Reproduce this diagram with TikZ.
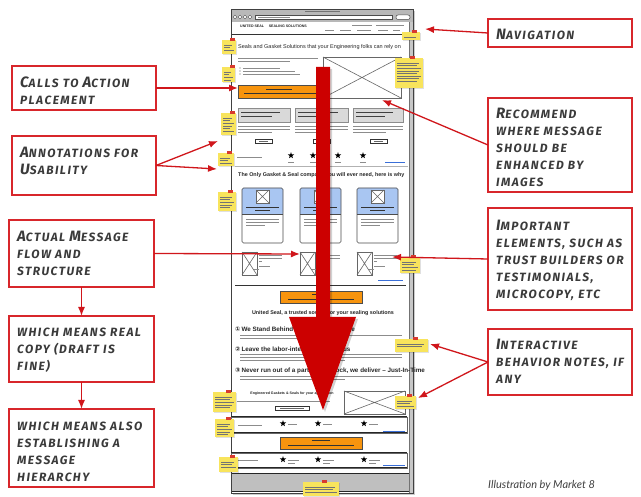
\documentclass[tikz,border=0pt]{standalone}
\usepackage{fontspec}
\setmainfont{Liberation Sans}
\newfontfamily\lblfont{Fira Sans}[LetterSpace=12]
\newfontfamily\credfont{Lato}
\newfontfamily\symfont{DejaVu Sans}
\usetikzlibrary{arrows.meta,calc}
\definecolor{boxred}{HTML}{D8262B}
\definecolor{connred}{HTML}{D0161B}
\definecolor{bigred}{HTML}{CC0000}
\definecolor{lblgray}{HTML}{3A3A3A}
\definecolor{stickyc}{HTML}{F8E45C}
\definecolor{pinc}{HTML}{D83A2E}
\definecolor{ctaor}{HTML}{F7940E}
\definecolor{cardblue}{HTML}{A9C6F2}
\definecolor{linkblue}{HTML}{3A6FD8}
\newcommand\Cp[1]{{\fontsize{15}{17}\selectfont #1}}
\tikzset{
 lblbox/.style={draw=boxred, line width=1.2pt, fill=white, inner sep=0pt, outer sep=0pt, anchor=north west},
 lbltext/.style={anchor=north west, inner sep=0pt, align=left, text=lblgray, font=\lblfont\bfseries\itshape\fontsize{12}{17}\selectfont},
 conn/.style={draw=connred, line width=1.3pt, -{Latex[length=9pt,width=7pt]}},
 wline/.style={draw=black!45, line width=0.7pt},
 dline/.style={draw=black!80, line width=0.8pt},
 stline/.style={draw=black!55, line width=0.45pt},
 imgline/.style={draw=black!60, line width=0.6pt},
 cta/.style={fill=ctaor, draw=black!70, line width=0.7pt},
 btn/.style={fill=white, draw=black!80, line width=0.6pt},
 wtitle/.style={inner sep=0pt, text=black!85},
 linkl/.style={draw=linkblue, line width=0.7pt},
}
\newcommand\wtext[4]{\foreach \k in {1,...,#4}{\draw[wline] (#1,{#3+(\k-1)*3}) -- ({#2-(\k==#4)*(#2-#1)*0.35},{#3+(\k-1)*3});}}
\newcommand\imgph[4]{\draw[imgline, fill=white] (#1,#2) rectangle (#3,#4); \draw[imgline] (#1,#2) -- (#3,#4) (#1,#4) -- (#3,#2);}
\newcommand\wstar[2]{\fill[black] (#1,#2) +(-90:3.3) -- +(-54:1.4) -- +(-18:3.3) -- +(18:1.4) -- +(54:3.3) -- +(90:1.4) -- +(126:3.3) -- +(162:1.4) -- +(198:3.3) -- +(234:1.4) -- cycle;}
\newcommand\sticky[5]{%
  \fill[black, opacity=0.12] (#1+0.8,#2+0.8) rectangle (#3+0.8,#4+0.8);
  \fill[stickyc] (#1,#2) rectangle (#3,#4);
  \fill[pinc] ({(#1+#3)/2+1},{#2-1.5}) rectangle ({(#1+#3)/2+6},{#2+1.5});
  \foreach \k in {1,...,#5}{\draw[stline] ({#1+2},{#2+2.5+\k*2.6}) -- ({#3-2-mod(\k,3)*2},{#2+2.5+\k*2.6});}
}
\begin{document}
\begin{tikzpicture}[x=1pt,y=-1pt]
\useasboundingbox (0,0) rectangle (641,497);
\fill[white] (0,0) rectangle (641,497);

% ---------------- browser wireframe ----------------
\fill[black!20] (233,11) rectangle (415,495);
\fill[white] (231,9) rectangle (413,493);
\fill[black!28] (231,9) rectangle (413,22);
\draw[black!55, line width=0.8pt] (305,11.5) -- (340,11.5);
\foreach \xx in {235,240,245,250}{\draw[black!70, fill=white, line width=0.4pt] (\xx,17) circle (1.8);}
\draw[black!70, fill=white, line width=0.5pt] (255,15) rectangle (392,19.5);
\draw[wline] (258,17.2) -- (290,17.2);
\draw[black!70, fill=white, line width=0.5pt, rounded corners=2] (396,15) rectangle (410,19.5);
\fill[black!22] (409,22) rectangle (413,493);
\draw[black!55, line width=0.4pt] (409,22) -- (409,493);
\draw[black!75, line width=0.8pt] (231,9) rectangle (413,493);

% header
\node[wtitle, anchor=west, font=\bfseries\fontsize{3.6}{4}\selectfont] (logo) at (240,26.5) {UNITED SEAL \quad SEALING SOLUTIONS};
\draw[wline] (352,25) -- (372,25) (376,25) -- (404,25);
\foreach \xa/\xb in {325/334,340/351,357/371,378/388,393/400}{\draw[wline] (\xa,30.5) -- (\xb,30.5);}
\draw[dline, line width=0.9pt] (232,34.5) -- (409,34.5);

% hero
\node[wtitle, anchor=west, font=\fontsize{5.5}{6}\selectfont] (h1) at (238,47) {Seals and Gasket Solutions that your Engineering folks can rely on};
\wtext{238}{318}{58}{2}
\foreach \yy/\xe in {68/280,71/295,74/300}{\fill[black!60] (240,\yy) circle (0.6); \draw[wline] (243,\yy) -- (\xe,\yy);}
\imgph{323}{57}{401}{98}
\draw[cta] (238,85) rectangle (322,98);
\draw[black!80, line width=0.7pt] (266,89) -- (292,89) (244,93.5) -- (318,93.5);

% features
\foreach \xa/\xb in {238/290,295/348,353/403}{
  \draw[black!45, fill=black!15, line width=0.5pt] (\xa,108) rectangle (\xb,122);
  \draw[black!75, line width=0.7pt] (\xa+3,112) -- (\xb-10,112) (\xa+3,116) -- (\xb-18,116);
  \wtext{\xa}{\xb}{126}{3}
}
\foreach \xa in {255,313,370}{\draw[btn] (\xa,139) rectangle (\xa+17,143.5); \draw[black!60, line width=0.4pt] (\xa+4,141.3) -- (\xa+13,141.3);}
\draw[wline] (237,157) -- (262,157);
\foreach \xs in {291,313,338,363}{\wstar{\xs}{155.5} \draw[wline, line width=0.5pt] (\xs-3,162.5) -- (\xs+3,162.5);}
\draw[linkl] (385,162) -- (405,162);
\draw[black!30, line width=0.5pt] (235,166.5) -- (408,166.5);

% why section
\node[wtitle, anchor=west, font=\bfseries\fontsize{5.4}{6}\selectfont] (h2) at (238,175) {The Only Gasket \& Seal company you will ever need, here is why};
\foreach \xa in {242,300,357}{
  \fill[cardblue, rounded corners=1.5] (\xa,188) rectangle (\xa+41,214);
  \fill[cardblue] (\xa,205) rectangle (\xa+41,214);
  \draw[black!70, line width=0.6pt, rounded corners=1.5] (\xa,188) rectangle (\xa+41,243);
  \draw[black!70, line width=0.5pt] (\xa,214) -- (\xa+41,214);
  \imgph{\xa+14}{190}{\xa+27}{203}
  \draw[black!80, line width=0.6pt] (\xa+4,207) -- (\xa+37,207) (\xa+13,210.5) -- (\xa+28,210.5);
  \wtext{\xa+4}{\xa+37}{219}{3}
  \imgph{\xa}{252}{\xa+15}{275}
  \wtext{\xa+17}{\xa+40}{255}{3}
  \wtext{\xa+17}{\xa+28}{266}{2}
}
\draw[linkl] (378,280) -- (403,280);
\draw[dline] (235,285) -- (406,285);
\draw[cta] (280,291) rectangle (362,303);
\draw[black!80, line width=0.6pt] (312,294.5) -- (330,294.5) (288,299) -- (354,299);
\node[wtitle, font=\bfseries\fontsize{5.4}{6}\selectfont] (h3) at (323,313) {United Seal, a trusted source for your sealing solutions};

% numbered reasons
\node[wtitle, anchor=west, font=\bfseries\fontsize{6.3}{7}\selectfont] (r1) at (235,330) {{\symfont ①}\,We Stand Behind our Quality Promise};
\wtext{240}{402}{335}{2}
\node[wtitle, anchor=west, font=\bfseries\fontsize{6.3}{7}\selectfont] (r2) at (235,349) {{\symfont ②}\,Leave the labor-intensive work to us};
\wtext{240}{402}{354}{3}
\node[wtitle, anchor=west, font=\bfseries\fontsize{6.3}{7}\selectfont] (r3) at (235,371) {{\symfont ③}\,Never run out of a part in our stock, we deliver -- Just-In-Time};
\wtext{240}{402}{376}{2}

% bottom area
\node[wtitle, font=\bfseries\fontsize{3.6}{4}\selectfont] (h4) at (292,394) {Engineered Gaskets \& Seals for your application};
\draw[wline] (237,401) -- (330,401);
\draw[btn] (275,406) rectangle (309,410.5);
\draw[black!60, line width=0.4pt] (280,408.2) -- (304,408.2);
\imgph{344}{391}{405}{414}
\draw[black!60, line width=0.5pt] (231,417) rectangle (407,433);
\draw[black!85, line width=1pt] (231,417) -- (407,417) (231,433) -- (407,433);
\draw[wline] (238,425) -- (262,425);
\foreach \xs in {283,318,364}{\wstar{\xs}{423.5} \draw[wline, line width=0.5pt] (\xs+5,424) -- (\xs+14,424);}
\draw[linkl] (383,431) -- (405,431);
\draw[cta] (280,437) rectangle (362,449);
\draw[black!80, line width=0.6pt] (312,440.5) -- (330,440.5) (288,445) -- (354,445);
\draw[black!60, line width=0.5pt] (231,453) rectangle (407,468);
\draw[black!85, line width=1pt] (231,453) -- (407,453) (231,468) -- (407,468);
\draw[wline] (238,460) -- (258,460);
\foreach \xs in {283,318,364}{\wstar{\xs}{459.5} \draw[wline, line width=0.5pt] (\xs+5,460) -- (\xs+16,460) (\xs+5,463) -- (\xs+12,463);}
\draw[linkl] (383,465.5) -- (405,465.5);
\fill[black!25] (232,473) rectangle (409,491);
\draw[black!85, line width=0.8pt] (232,473) -- (409,473) (232,491) -- (409,491);

% sticky notes
\sticky{222}{40}{236}{54}{3}
\sticky{222}{67}{235}{82}{4}
\sticky{221}{113}{236}{135}{6}
\sticky{218}{153}{234}{166}{3}
\sticky{218}{192}{236}{211}{5}
\sticky{213}{392}{236}{412}{5}
\sticky{215}{419}{234}{437}{5}
\sticky{219}{457}{238}{472}{3}
\sticky{402}{32}{420}{40}{1}
\sticky{395}{58}{423}{88}{8}
\sticky{400}{257}{420}{273}{4}
\sticky{395}{339}{428}{352}{2}
\sticky{395}{396}{416}{409}{3}
\sticky{303}{482}{339}{496}{3}

% big flow arrow
\fill[black, opacity=0.18] (318,69) -- (332,69) -- (332,319) -- (358,319) -- (325,412) -- (291,319) -- (318,319) -- cycle;
\fill[bigred] (316,67) -- (330,67) -- (330,317) -- (356,317) -- (323,410) -- (289,317) -- (316,317) -- cycle;

% ---------------- label boxes ----------------
\node[lblbox, minimum width=144, minimum height=44] (calls) at (12,66) {};
\node[lbltext] (callsT) at ($(calls.north west)+(8,11)$) {\rule{0pt}{10pt}\Cp{C}ALLS TO \Cp{A}CTION\\PLACEMENT};
\node[lblbox, minimum width=144, minimum height=59] (annot) at (12,136) {};
\node[lbltext] (annotT) at ($(annot.north west)+(8,11)$) {\rule{0pt}{10pt}\Cp{A}NNOTATIONS FOR\\\Cp{U}SABILITY};
\node[lblbox, minimum width=145, minimum height=67] (actual) at (9,220) {};
\node[lbltext] (actualT) at ($(actual.north west)+(8,11)$) {\rule{0pt}{10pt}\Cp{A}CTUAL \Cp{M}ESSAGE\\FLOW AND\\STRUCTURE};
\node[lblbox, minimum width=145, minimum height=66] (realcopy) at (9,316) {};
\node[lbltext] (realcopyT) at ($(realcopy.north west)+(8,10)$) {\rule{0pt}{10pt}WHICH MEANS REAL\\COPY (DRAFT IS\\FINE)};
\node[lblbox, minimum width=145, minimum height=78] (hier) at (9,409) {};
\node[lbltext] (hierT) at ($(hier.north west)+(8,11)$) {\rule{0pt}{10pt}WHICH MEANS ALSO\\ESTABLISHING A\\MESSAGE\\HIERARCHY};

\node[lblbox, minimum width=144, minimum height=28] (nav) at (488,19) {};
\node[lbltext] (navT) at ($(nav.north west)+(8,10)$) {\rule{0pt}{10pt}\Cp{N}AVIGATION};
\node[lblbox, minimum width=144, minimum height=94] (recom) at (488,98) {};
\node[lbltext] (recomT) at ($(recom.north west)+(8,10)$) {\rule{0pt}{10pt}\Cp{R}ECOMMEND\\WHERE MESSAGE\\SHOULD BE\\ENHANCED BY\\IMAGES};
\node[lblbox, minimum width=144, minimum height=102] (imp) at (488,208) {};
\node[lbltext] (impT) at ($(imp.north west)+(8,12)$) {\rule{0pt}{10pt}\Cp{I}MPORTANT\\ELEMENTS, SUCH AS\\TRUST BUILDERS OR\\TESTIMONIALS,\\MICROCOPY, ETC};
\node[lblbox, minimum width=144, minimum height=66] (inter) at (488,329) {};
\node[lbltext] (interT) at ($(inter.north west)+(8,10)$) {\rule{0pt}{10pt}\Cp{I}NTERACTIVE\\BEHAVIOR NOTES, IF\\ANY};

\node[anchor=west, inner sep=0pt, text=black!75, font=\credfont\itshape\fontsize{11}{13}\selectfont] (credit) at (488,485) {Illustration by Market 8};

% ---------------- connectors ----------------
\coordinate (tCta) at (238,88);
\coordinate (tAnn1) at (218,141);
\coordinate (tAnn2) at (217,169);
\coordinate (tMsg) at (300,254);
\coordinate (tNav) at (425,29);
\coordinate (tImg) at (382,100);
\coordinate (tImp) at (392,257);
\coordinate (tInt1) at (430,344);
\coordinate (tInt2) at (418,398);

\draw[conn] (calls.east) -- (tCta);
\draw[conn] (annot.east) -- (tAnn1);
\draw[conn] (annot.east) -- (tAnn2);
\draw[conn] (actual.east) -- (tMsg);
\draw[conn] (actual.south) -- (realcopy.north);
\draw[conn] (realcopy.south) -- (hier.north);
\draw[conn] (nav.west) -- (tNav);
\draw[conn] (recom.west) -- (tImg);
\draw[conn] (imp.west) -- (tImp);
\draw[conn] (inter.west) -- (tInt1);
\draw[conn] (inter.west) -- (tInt2);
\end{tikzpicture}
\end{document}
